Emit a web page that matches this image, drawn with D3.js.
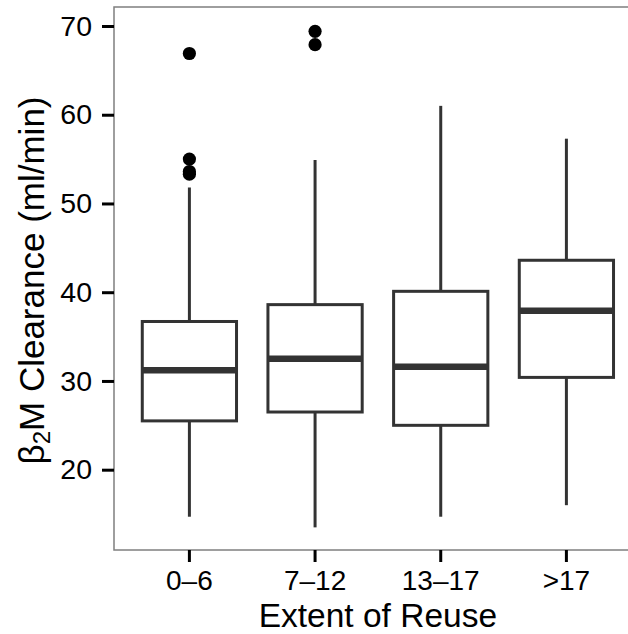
<!DOCTYPE html>
<html>
<head>
<meta charset="utf-8">
<script src="https://cdn.jsdelivr.net/npm/d3@7"></script>
<style>
  html, body { margin: 0; padding: 0; background: #fff; }
  svg { display: block; }
  text { font-family: "Liberation Sans", Arial, Helvetica, sans-serif; fill: #000; }
</style>
</head>
<body>
<svg id="chart" width="628" height="634"></svg>
<script>
// ---- data ----
const categories = ["0\u20136", "7\u201312", "13\u201317", ">17"];
const lowerWhisker = [14.7, 13.5, 14.7, 16.0];
const q1 = [25.5, 26.5, 25.0, 30.4];
const median = [31.2, 32.5, 31.6, 37.9];
const q3 = [36.7, 38.6, 40.1, 43.6];
const upperWhisker = [51.8, 54.9, 61.0, 57.3];
const outliers = [[66.9, 55.0, 53.6, 53.3], [69.4, 67.9], [], []];
const yTicks = [20, 30, 40, 50, 60, 70];

const boxes = categories.map((c, i) => ({
  cat: c, lo: lowerWhisker[i], q1: q1[i], med: median[i], q3: q3[i], hi: upperWhisker[i], out: outliers[i]
}));

// ---- layout ----
const panel = { left: 114, top: 7, bottom: 550, right: 641.8 };
const svg = d3.select("#chart");

const x = d3.scaleBand().domain(categories)
  .range([panel.left, panel.right]).paddingInner(0).paddingOuter(0.1);
const y = d3.scaleLinear().domain([10.95, 72.14]).range([panel.bottom, panel.top]);

const bw = x.bandwidth() * 0.75;
const cx = c => x(c) + x.bandwidth() / 2;
const ink = "#333333";

// panel border
svg.append("rect")
  .attr("x", panel.left).attr("y", panel.top)
  .attr("width", panel.right - panel.left).attr("height", panel.bottom - panel.top)
  .attr("fill", "#fff").attr("stroke", "#7f7f7f").attr("stroke-width", 1.5);

const g = svg.append("g");

// whiskers
g.selectAll(".wu").data(boxes).join("line")
  .attr("x1", d => cx(d.cat)).attr("x2", d => cx(d.cat))
  .attr("y1", d => y(d.q3)).attr("y2", d => y(d.hi))
  .attr("stroke", ink).attr("stroke-width", 3);
g.selectAll(".wl").data(boxes).join("line")
  .attr("x1", d => cx(d.cat)).attr("x2", d => cx(d.cat))
  .attr("y1", d => y(d.q1)).attr("y2", d => y(d.lo))
  .attr("stroke", ink).attr("stroke-width", 3);

// boxes
g.selectAll(".box").data(boxes).join("rect")
  .attr("x", d => cx(d.cat) - bw / 2).attr("width", bw)
  .attr("y", d => y(d.q3)).attr("height", d => y(d.q1) - y(d.q3))
  .attr("fill", "#fff").attr("stroke", ink).attr("stroke-width", 3);

// medians
g.selectAll(".med").data(boxes).join("line")
  .attr("x1", d => cx(d.cat) - bw / 2).attr("x2", d => cx(d.cat) + bw / 2)
  .attr("y1", d => y(d.med)).attr("y2", d => y(d.med))
  .attr("stroke", ink).attr("stroke-width", 6.5);

// outliers
const outPts = boxes.flatMap(d => d.out.map(v => ({ cat: d.cat, v })));
g.selectAll(".out").data(outPts).join("circle")
  .attr("cx", d => cx(d.cat)).attr("cy", d => y(d.v)).attr("r", 6.6)
  .attr("fill", "#000");

// y axis
const yAxis = d3.axisLeft(y).tickValues(yTicks).tickSize(12).tickPadding(10);
const ya = svg.append("g").attr("transform", `translate(${panel.left},0)`).call(yAxis);
ya.select(".domain").remove();
ya.selectAll(".tick line").attr("stroke", "#000").attr("stroke-width", 3);
ya.selectAll(".tick text").attr("font-size", 28.5).attr("fill", "#000")
  .style("font-family", '"Liberation Sans", Arial, sans-serif');

// x axis
const xAxis = d3.axisBottom(x).tickSize(12).tickPadding(8);
const xa = svg.append("g").attr("transform", `translate(0,${panel.bottom})`).call(xAxis);
xa.select(".domain").remove();
xa.selectAll(".tick line").attr("stroke", "#000").attr("stroke-width", 3);
xa.selectAll(".tick text").attr("font-size", 28).attr("fill", "#000")
  .style("font-family", '"Liberation Sans", Arial, sans-serif');

// axis titles
svg.append("text")
  .attr("x", (panel.left + panel.right) / 2).attr("y", 626.5)
  .attr("text-anchor", "middle").attr("font-size", 33.5)
  .text("Extent of Reuse");

const yt = svg.append("text")
  .attr("transform", `translate(44,${(panel.top + panel.bottom) / 2 + 2}) rotate(-90)`)
  .attr("text-anchor", "middle").attr("font-size", 35);
yt.append("tspan").text("\u03B2");
yt.append("tspan").attr("font-size", 24).attr("dy", 6).text("2");
yt.append("tspan").attr("dy", -6).text("M Clearance (ml/min)");
</script>
</body>
</html>
